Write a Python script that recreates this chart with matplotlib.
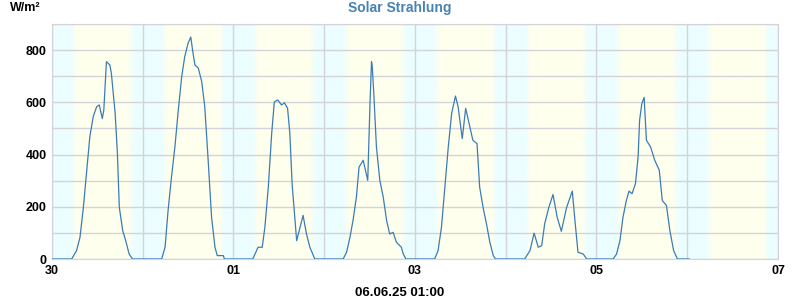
import numpy as np
import matplotlib
matplotlib.use('Agg')
import matplotlib.pyplot as plt

# solar radiation, hours since 30.05. 00:00
hours = [0,
         5.2, 6.5, 7.4, 8.3, 9.2, 10.0, 10.9, 11.8, 12.5, 13.3, 13.7, 14.4, 15.3, 15.7, 16.7, 17.3, 17.8, 18.7, 19.5, 20.4, 21.3,
         29.0, 29.9, 30.7, 31.6, 32.5, 33.4, 34.3, 35.1, 36.0, 36.7, 37.3, 37.8, 38.7, 39.6, 40.4, 41.3, 42.2, 43.1, 43.7, 45.3, 45.6,
         53.1, 54.5, 55.6, 56.3, 57.2, 58.1, 58.8, 59.7, 60.7, 61.5, 62.3, 62.9, 63.5, 64.7, 65.6, 66.4, 67.3, 68.2, 69.5,
         77.0, 77.9, 78.8, 79.6, 80.5, 81.2, 82.3, 82.7, 83.5, 84.1, 84.5, 84.7, 85.1, 85.8, 86.7, 87.6, 88.5, 89.3, 90.2, 91.1, 92.4, 92.9, 93.6,
         101.2, 102.1, 103.0, 103.9, 104.8, 105.7, 106.7, 107.4, 108.5, 109.4, 110.5, 111.3, 112.4, 113.1, 114.0, 114.9, 115.8, 116.7, 117.3,
         125.0, 126.4, 127.5, 128.6, 129.5, 130.3, 131.4, 132.5, 133.6, 134.7, 136.1, 137.6, 138.3, 139.1, 140.5, 141.4,
         148.4, 149.3, 150.2, 151.0, 151.9, 152.6, 153.4, 154.3, 155.0, 155.4, 156.0, 156.6, 157.2, 158.3, 159.4, 160.6, 161.4, 162.5, 163.4, 164.4, 165.4, 168.5]
radiation = [0,
             0, 32, 83, 198, 340, 468, 545, 583, 590, 538, 570, 756, 743, 711, 558, 404, 198, 109, 70, 19, 0,
             0, 45, 186, 314, 429, 570, 698, 775, 827, 850, 788, 743, 731, 679, 583, 378, 160, 45, 13, 13, 0,
             0, 45, 45, 122, 275, 481, 602, 609, 590, 598, 577, 481, 288, 70, 122, 167, 96, 45, 0,
             0, 26, 83, 147, 237, 352, 378, 352, 301, 596, 756, 737, 634, 429, 301, 237, 147, 96, 102, 64, 45, 19, 0,
             0, 32, 122, 275, 429, 558, 624, 583, 461, 577, 506, 455, 442, 275, 198, 135, 64, 13, 0,
             0, 32, 99, 45, 51, 135, 198, 247, 160, 106, 198, 260, 147, 26, 19, 0,
             0, 19, 70, 160, 224, 260, 250, 288, 391, 532, 596, 619, 455, 429, 378, 340, 224, 205, 109, 32, 0, 0]

tick_days = [0, 2, 4, 6, 8]
tick_labels = ['30', '01', '03', '05', '07']
sunrise, sunset, twilight = 5.2, 20.3, 1.2   # hours

x = np.array(hours) / 24.0
y = np.array(radiation)

fig = plt.figure(figsize=(8, 3), dpi=100)
ax = fig.add_axes([52/800, 41/300, 726/800, 235/300])

# day / night background
night = np.array([236, 254, 255]) / 255
day = np.array([255, 255, 238]) / 255
t = np.linspace(0, 24, 24*20, endpoint=False)
w = np.interp(t, [0, sunrise, sunrise + twilight, sunset, sunset + twilight, 24], [0, 0, 1, 1, 0, 0])
row = night[None, :] * (1 - w[:, None]) + day[None, :] * w[:, None]
bg = np.tile(row, (8, 1))[None, :, :]
ax.imshow(bg, extent=[0, 8, 0, 900], aspect='auto', zorder=0, interpolation='bilinear')

ax.plot(x, y, color='#3a7cb8', lw=0.9, zorder=3)

ax.set_xlim(0, 8)
ax.set_ylim(0, 900)
ax.set_xticks(np.arange(0, 9, 1), minor=True)
ax.set_xticks(tick_days)
ax.set_xticklabels(tick_labels)
ax.set_yticks(np.arange(0, 901, 100), minor=True)
ax.set_yticks([0, 200, 400, 600, 800])
ax.grid(True, which='both', color='#d4d4d8', lw=1, zorder=1)
ax.set_axisbelow(False)
ax.tick_params(which='both', length=0, labelsize=9, pad=4)
for lab in ax.get_xticklabels() + ax.get_yticklabels():
    lab.set_fontweight('bold')
    lab.set_fontfamily('Liberation Sans')
for s in ax.spines.values():
    s.set_color('#d4d4d8')

fig.text(0.5, 0.972, 'Solar Strahlung', ha='center', va='center', color='#4682b4',
         fontsize=10, fontweight='bold', family='Liberation Sans')
fig.text(10/800, 0.972, 'W/m²', ha='left', va='center', fontsize=9, fontweight='bold', family='Liberation Sans')
fig.text(0.5, 0.025, '06.06.25 01:00', ha='center', va='center', fontsize=9.5, fontweight='bold',
         family='Liberation Sans')

fig.savefig('out.png')
